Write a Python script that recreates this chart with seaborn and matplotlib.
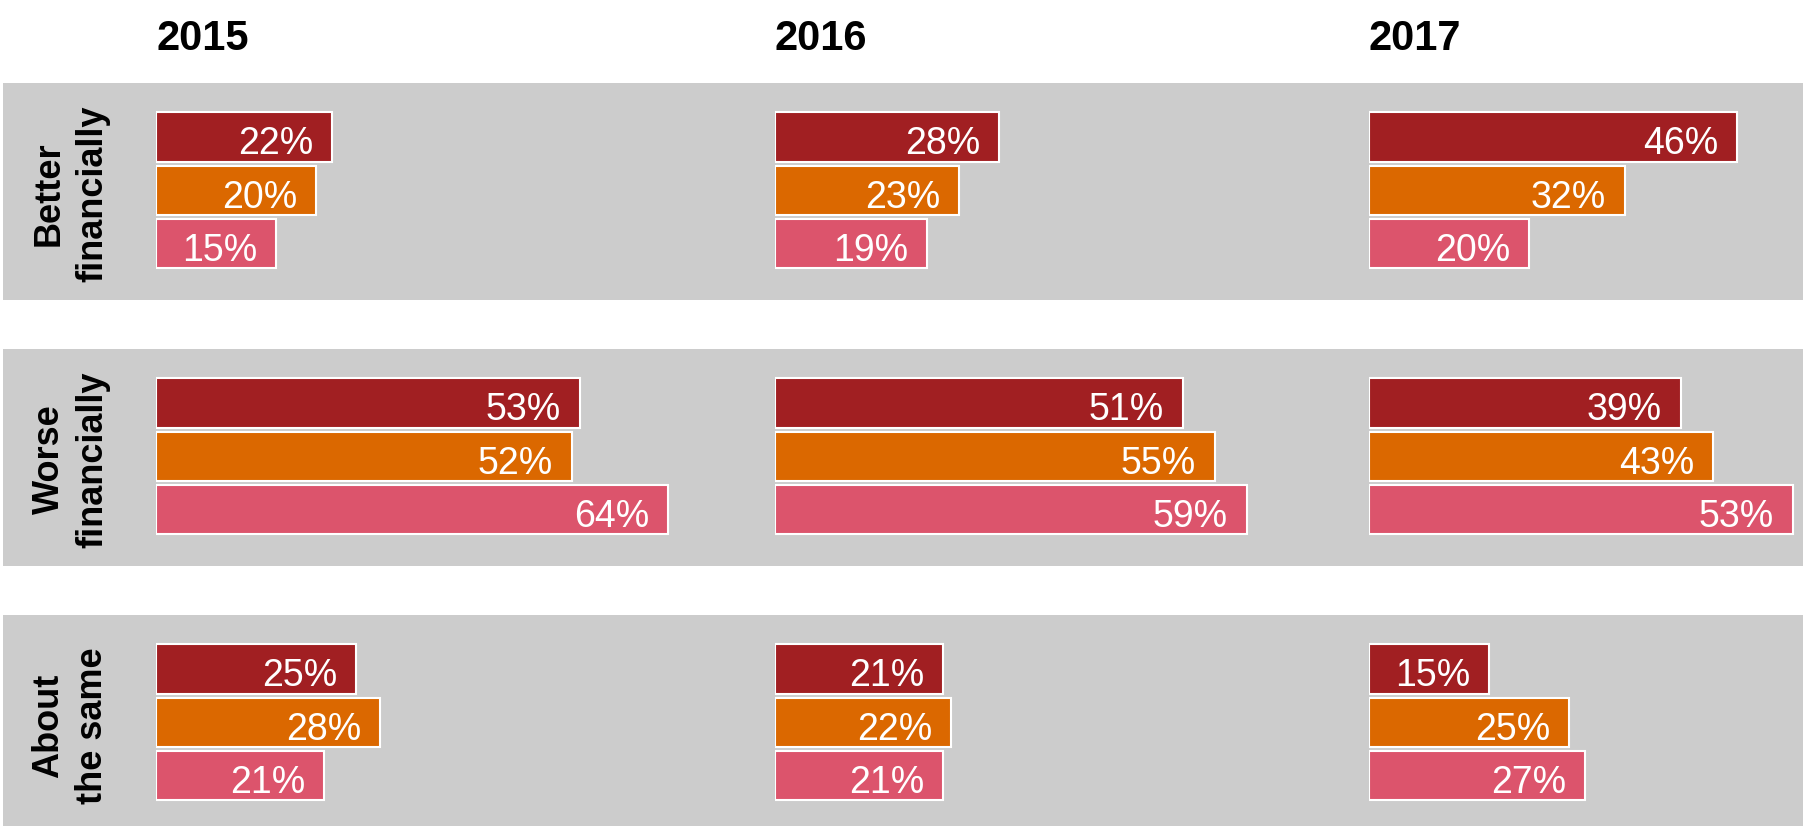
import pandas as pd
import seaborn as sns
import matplotlib.pyplot as plt
from matplotlib.patches import Rectangle

# chart values (per year: 2015, 2016, 2017; three groups each)
years = ["2015", "2016", "2017"]
outcomes = ["Better\nfinancially", "Worse\nfinancially", "About\nthe same"]
groups = ["Group 1", "Group 2", "Group 3"]
colors = ["#A11F22", "#DB6800", "#DC546C"]

better = [[22, 20, 15], [28, 23, 19], [46, 32, 20]]
worse = [[53, 52, 64], [51, 55, 59], [39, 43, 53]]
same = [[25, 28, 21], [21, 22, 21], [15, 25, 27]]

rows = []
for outcome, vals in zip(outcomes, [better, worse, same]):
    for year, yvals in zip(years, vals):
        for g, v in zip(groups, yvals):
            rows.append({"outcome": outcome, "year": year, "group": g, "value": v})
df = pd.DataFrame(rows)

plt.rcParams['font.family'] = ['Liberation Sans', 'DejaVu Sans']

# layout in pixels
W, H = 1809, 826
band_top = [83, 349, 615]
band_h = 217
col_x = [156, 775, 1369]
col_w = [600, 585, 434]
px_per_pct = 8.0

fig = plt.figure(figsize=(W / 100, H / 100), dpi=100)

for c, year in enumerate(years):
    fig.text(col_x[c] / W, 1 - 50 / H, year, fontsize=30, fontweight='bold',
             ha='left', va='baseline')

for r, outcome in enumerate(outcomes):
    top = band_top[r]
    fig.patches.append(Rectangle((3 / W, 1 - (top + band_h) / H), 1800 / W, band_h / H,
                                 transform=fig.transFigure, facecolor="#CCCCCC",
                                 edgecolor='none', zorder=-1))
    fig.text(71 / W, 1 - (top + band_h / 2 + 2) / H, outcome, rotation=90,
             ha='center', va='center', multialignment='center',
             fontsize=26, fontweight='bold', linespacing=1.33)

    for c, year in enumerate(years):
        ax = fig.add_axes([col_x[c] / W, 1 - (top + band_h) / H, col_w[c] / W, band_h / H])
        sub = df[(df.outcome == outcome) & (df.year == year)]
        sns.barplot(data=sub, x='value', y='group', hue='group', order=groups,
                    hue_order=groups, palette=colors, saturation=1, orient='h',
                    width=0.92, edgecolor='white', linewidth=1.5, errorbar=None,
                    legend=False, ax=ax)
        ax.set_xlim(0, col_w[c] / px_per_pct)
        ax.set_ylim(3.05, -1.01)
        ax.set_axis_off()
        for cont in ax.containers:
            for bar in cont:
                v = bar.get_width()
                ax.annotate(f"{v:.0f}%", xy=(v, bar.get_y() + bar.get_height() / 2),
                            xytext=(-13.7, -12.6), textcoords='offset points',
                            ha='right', va='baseline', color='white', fontsize=27)

fig.savefig("out.png", dpi=100)
